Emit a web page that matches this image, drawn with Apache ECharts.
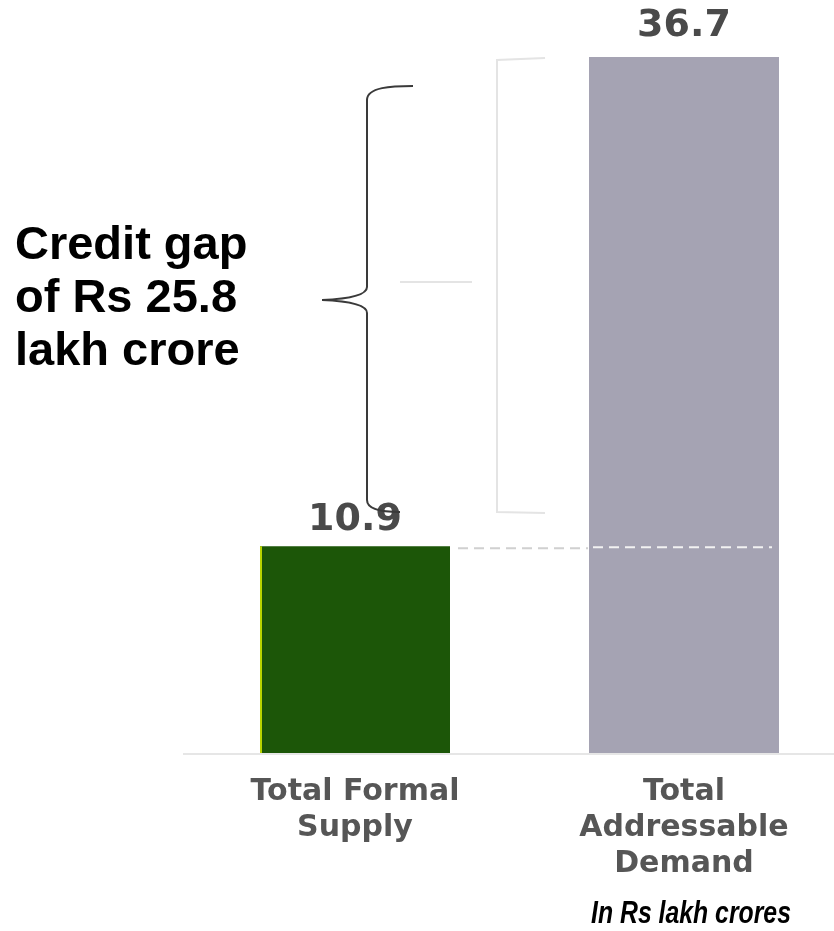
<!DOCTYPE html>
<html>
<head>
<meta charset="utf-8">
<script src="https://cdn.jsdelivr.net/npm/echarts@6/dist/echarts.min.js"></script>
<style>
  html, body { margin: 0; padding: 0; background: #ffffff; }
  #chart { width: 834px; height: 931px; }
</style>
</head>
<body>
<div id="chart"></div>
<script>
// ---- data ----
const categories = ['Total Formal\nSupply', 'Total\nAddressable\nDemand'];
const values = [10.9, 36.7];
const barColors = ['#1c5608', '#a5a3b3'];
const gapValue = 25.8;
const gapTextLines = ['Credit gap', 'of Rs ' + gapValue, 'lakh crore'];
const unitNote = 'In Rs lakh crores';

const chart = echarts.init(document.getElementById('chart'), null, { renderer: 'canvas' });

const option = {
  animation: false,
  backgroundColor: '#ffffff',
  grid: { left: 355, right: 150, top: 57, bottom: 178, containLabel: false },
  xAxis: {
    type: 'category',
    data: categories,
    boundaryGap: false,
    axisLine: { show: false },
    axisTick: { show: false },
    axisLabel: {
      fontFamily: 'DejaVu Sans',
      fontWeight: 'bold',
      fontSize: 30,
      lineHeight: 36,
      color: '#565656',
      margin: 21,
      interval: 0
    }
  },
  yAxis: {
    type: 'value',
    min: 0,
    max: values[1],
    show: false,
    splitLine: { show: false }
  },
  series: [{
    type: 'bar',
    barWidth: 190,
    data: values.map((v, i) => ({
      value: v,
      itemStyle: { color: barColors[i] },
      label: { distance: i === 0 ? 7 : 12 }
    })),
    label: {
      show: true,
      position: 'top',
      fontFamily: 'DejaVu Sans',
      fontWeight: 'bold',
      fontSize: 38,
      lineHeight: 38,
      color: '#4a4a4a',
      formatter: p => p.value.toFixed(1)
    }
  }]
};
chart.setOption(option);

// annotation positions derived from axis
const yGap = chart.convertToPixel({ yAxisIndex: 0 }, values[0]);
const yBase = chart.convertToPixel({ yAxisIndex: 0 }, 0);

const graphics = [];
// baseline (axis line extended across the plot like the source)
graphics.push({
  type: 'line',
  shape: { x1: 183, y1: yBase + 1, x2: 834, y2: yBase + 1 },
  style: { stroke: '#e6e6e6', lineWidth: 2 },
  z: 1
});
// green bar's thin yellow-green edge, as in the source
const xSupply = chart.convertToPixel({ xAxisIndex: 0 }, 0);
graphics.push({
  type: 'line',
  shape: { x1: xSupply - 94, y1: yGap, x2: xSupply - 94, y2: yBase },
  style: { stroke: '#b8d400', lineWidth: 2 },
  z: 50
});
// Credit gap text
const lineY = [246, 299, 352];
gapTextLines.forEach((t, i) => {
  graphics.push({
    type: 'text',
    x: 15, y: lineY[i],
    style: {
      text: t,
      x: 0, y: 0,
      fill: '#000000',
      font: 'bold 47px "Liberation Sans", Arial, sans-serif',
      verticalAlign: 'middle',
      align: 'left'
    },
    z: 100
  });
});
// black curly brace
const braceStyle = { stroke: '#3a3a3a', lineWidth: 2, fill: null };
graphics.push(
  { type: 'bezierCurve', shape: { x1: 413, y1: 86, cpx1: 392, cpy1: 86, cpx2: 367, cpy2: 87, x2: 367, y2: 100 }, style: braceStyle, z: 100 },
  { type: 'line', shape: { x1: 367, y1: 100, x2: 367, y2: 287 }, style: braceStyle, z: 100 },
  { type: 'bezierCurve', shape: { x1: 367, y1: 287, cpx1: 367, cpy1: 296, cpx2: 346, cpy2: 299, x2: 322, y2: 300 }, style: braceStyle, z: 100 },
  { type: 'bezierCurve', shape: { x1: 322, y1: 300, cpx1: 346, cpy1: 301, cpx2: 367, cpy2: 304, x2: 367, y2: 313 }, style: braceStyle, z: 100 },
  { type: 'line', shape: { x1: 367, y1: 313, x2: 367, y2: 500 }, style: braceStyle, z: 100 },
  { type: 'bezierCurve', shape: { x1: 367, y1: 500, cpx1: 367, cpy1: 510, cpx2: 384, cpy2: 512, x2: 400, y2: 512 }, style: braceStyle, z: 100 }
);
// light grey bracket
graphics.push({
  type: 'polyline',
  shape: { points: [[545, 58], [497, 60], [497, 512], [545, 513]] },
  style: { stroke: '#e4e4e4', lineWidth: 2, fill: null },
  z: 100
});
graphics.push({
  type: 'line',
  shape: { x1: 400, y1: 282, x2: 472, y2: 282 },
  style: { stroke: '#e4e4e4', lineWidth: 2 },
  z: 100
});
// dashed reference line at the supply level
graphics.push({
  type: 'line',
  shape: { x1: 458, y1: yGap + 2, x2: 588, y2: yGap + 2 },
  style: { stroke: '#d0d0d0', lineWidth: 2, lineDash: [10, 6] },
  z: 100
});
graphics.push({
  type: 'line',
  shape: { x1: 593, y1: yGap + 1, x2: 772, y2: yGap + 1 },
  style: { stroke: '#f2f2f2', lineWidth: 2, lineDash: [10, 6] },
  z: 100
});
// unit note
graphics.push({
  type: 'text',
  x: 691, y: 914,
  scaleX: 0.8,
  style: {
    text: unitNote,
    x: 0, y: 0,
    fill: '#000000',
    font: 'italic bold 31px "Liberation Sans", Arial, sans-serif',
    align: 'center',
    verticalAlign: 'middle'
  },
  z: 100
});

chart.setOption({ graphic: graphics });
</script>
</body>
</html>
